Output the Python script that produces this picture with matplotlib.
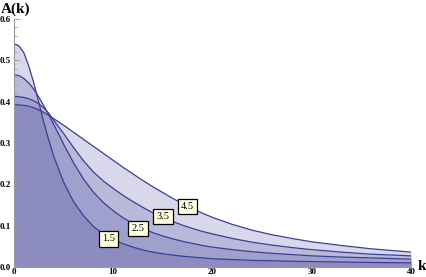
import numpy as np
import matplotlib
matplotlib.use("Agg")
import matplotlib.pyplot as plt
from matplotlib.ticker import MultipleLocator

# values
k = [0, 0.5, 1, 1.5, 2, 2.5, 3, 3.5, 4, 5, 6, 7, 8, 9, 10, 11, 12, 13, 14, 15, 16, 17,
     18, 19, 20, 22, 24, 26, 28, 30, 33, 36, 40]
a_15 = [0.540, 0.535, 0.518, 0.485, 0.445, 0.398, 0.350, 0.307, 0.268, 0.205, 0.158, 0.124,
        0.098, 0.080, 0.066, 0.056, 0.048, 0.041, 0.036, 0.032, 0.029, 0.026, 0.024, 0.022,
        0.020, 0.018, 0.016, 0.015, 0.014, 0.013, 0.012, 0.011, 0.010]
a_25 = [0.465, 0.463, 0.456, 0.445, 0.430, 0.411, 0.390, 0.368, 0.345, 0.297, 0.252, 0.213,
        0.181, 0.156, 0.136, 0.119, 0.105, 0.093, 0.083, 0.075, 0.068, 0.062, 0.057, 0.052,
        0.048, 0.042, 0.037, 0.033, 0.030, 0.027, 0.024, 0.022, 0.019]
a_35 = [0.413, 0.412, 0.410, 0.407, 0.402, 0.395, 0.385, 0.372, 0.355, 0.323, 0.289, 0.257,
        0.230, 0.208, 0.190, 0.173, 0.158, 0.144, 0.131, 0.120, 0.110, 0.101, 0.093, 0.086,
        0.080, 0.069, 0.060, 0.053, 0.047, 0.042, 0.036, 0.031, 0.027]
a_45 = [0.393, 0.392, 0.391, 0.389, 0.385, 0.380, 0.374, 0.367, 0.359, 0.343, 0.326, 0.309,
        0.292, 0.275, 0.258, 0.241, 0.225, 0.209, 0.194, 0.180, 0.166, 0.153, 0.141, 0.130,
        0.120, 0.103, 0.089, 0.078, 0.069, 0.061, 0.052, 0.044, 0.036]
series = [a_15, a_25, a_35, a_45]
labels = ["1.5", "2.5", "3.5", "4.5"]

# where the little labels sit
label_k = [9.5, 12.5, 15.0, 17.5]
label_a = [0.068, 0.094, 0.123, 0.146]

col = (0.24, 0.24, 0.6)

fig = plt.figure(figsize=(4.27, 2.77), dpi=100)
ax = fig.add_axes([14 / 427, 10 / 277, 397 / 427, 248 / 277])

for y in series:
    ax.fill_between(k, 0, y, color=col, alpha=0.2, lw=0)
    ax.plot(k, y, color=col, lw=0.9)

for lab, x, y in zip(labels, label_k, label_a):
    ax.text(x, y, lab, ha="center", va="center", fontsize=7.5, family="Liberation Serif",
            bbox=dict(boxstyle="square,pad=0.3", fc="#ffffe0", ec="black", lw=0.9))

ax.set_xlim(0, 40)
ax.set_ylim(0, 0.6)
ax.xaxis.set_major_locator(MultipleLocator(10))
ax.xaxis.set_minor_locator(MultipleLocator(2))
ax.yaxis.set_major_locator(MultipleLocator(0.1))
ax.yaxis.set_minor_locator(MultipleLocator(0.02))
ax.set_yticklabels(["%.1f" % v for v in ax.get_yticks()])

for s in ["top", "right"]:
    ax.spines[s].set_visible(False)
for s in ["left", "bottom"]:
    ax.spines[s].set_color("#999999")
    ax.spines[s].set_linewidth(0.8)

ax.tick_params(which="both", direction="in", color="#999999", width=0.6)
ax.tick_params(which="major", length=4, labelsize=6.5)
ax.tick_params(axis="x", which="major", pad=1)
ax.tick_params(axis="y", which="major", pad=2)
ax.tick_params(which="minor", length=2)
for t in ax.get_xticklabels() + ax.get_yticklabels():
    t.set_family("Liberation Serif")
    t.set_fontweight("bold")

fig.text(1 / 427, 1 - 9 / 277, "A(k)", fontsize=11, fontweight="bold",
         family="Liberation Serif", va="center", ha="left")
fig.text(418 / 427, 1 - 267 / 277, "k", fontsize=11, fontweight="bold",
         family="Liberation Serif", va="center", ha="left")

fig.savefig("out.png", dpi=100)
